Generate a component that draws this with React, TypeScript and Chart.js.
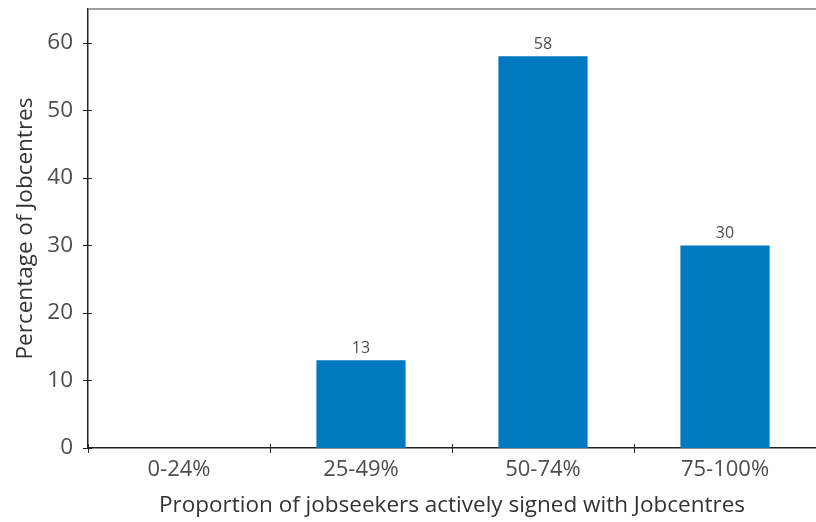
import React, { useEffect, useRef } from "react";
import { Chart, registerables } from "chart.js";

Chart.register(...registerables);

const categories = ["0-24%", "25-49%", "50-74%", "75-100%"];
const values = [0, 13, 58, 30];
const yTitle = "Percentage of Jobcentres";
const xTitle = "Proportion of jobseekers actively signed with Jobcentres";

const FONT = "'Open Sans', sans-serif";

const extrasPlugin = {
  id: "extras",
  afterDraw(chart: any) {
    const ctx = chart.ctx;
    const area = chart.chartArea;
    ctx.save();
    // top border
    ctx.strokeStyle = "#7f7f7f";
    ctx.lineWidth = 1.5;
    ctx.beginPath();
    ctx.moveTo(area.left, area.top);
    ctx.lineTo(chart.width, area.top);
    ctx.stroke();
    // crossing tick marks on y axis
    const ys = chart.scales.y;
    ctx.strokeStyle = "#222";
    ctx.lineWidth = 1;
    ys.ticks.forEach((t: any) => {
      const py = Math.round(ys.getPixelForValue(t.value)) + 0.5;
      ctx.beginPath();
      ctx.moveTo(area.left - 5, py);
      ctx.lineTo(area.left + 4, py);
      ctx.stroke();
    });
    // crossing tick marks on x axis at category boundaries
    for (let i = 0; i <= categories.length; i++) {
      const px = Math.round(area.left + (i * (area.right - area.left)) / categories.length) + 0.5;
      ctx.beginPath();
      ctx.moveTo(px, area.bottom - 4);
      ctx.lineTo(px, area.bottom + 5);
      ctx.stroke();
    }
    // value labels
    const meta = chart.getDatasetMeta(0);
    ctx.fillStyle = "#4d4d4d";
    ctx.font = `16px ${FONT}`;
    ctx.textAlign = "center";
    ctx.textBaseline = "bottom";
    meta.data.forEach((bar: any, i: number) => {
      const v = values[i];
      if (!v) return;
      ctx.fillText(String(v), bar.x, bar.y - 4);
    });
    ctx.restore();
  },
};

export default function App() {
  const ref = useRef<HTMLCanvasElement | null>(null);
  useEffect(() => {
    document.body.style.margin = "0";
    document.body.style.overflow = "hidden";
    if (!ref.current) return;
    const chart = new Chart(ref.current, {
      type: "bar",
      data: {
        labels: categories,
        datasets: [
          {
            data: values,
            backgroundColor: "#0079c1",
            borderWidth: 0,
            barPercentage: 0.49,
            categoryPercentage: 1,
          },
        ],
      },
      options: {
        responsive: false,
        animation: false,
        layout: { padding: { top: 9, right: 0, left: 0, bottom: 0 } },
        plugins: { legend: { display: false }, tooltip: { enabled: false } },
        scales: {
          x: {
            grid: { display: false, drawOnChartArea: false },
            border: { display: true, color: "#222", width: 1.5 },
            ticks: { color: "#4d4d4d", font: { family: FONT, size: 22 }, padding: 1 },
            title: {
              display: true,
              text: xTitle,
              color: "#333",
              font: { family: FONT, size: 22.5 },
              padding: { top: 2, bottom: 3 },
            },
            afterFit(scale: any) {
              scale.height = 74;
              scale.paddingLeft = 0;
              scale.paddingRight = 0;
            },
          },
          y: {
            min: 0,
            max: 65,
            grid: { display: false, drawOnChartArea: false },
            border: { display: true, color: "#222", width: 1.5 },
            ticks: {
              stepSize: 10,
              includeBounds: false,
              color: "#4d4d4d",
              font: { family: FONT, size: 22.5 },
              padding: 7,
            },
            title: {
              display: true,
              text: yTitle,
              color: "#333",
              font: { family: FONT, size: 22.5 },
              padding: { top: 12, bottom: 4 },
            },
            afterFit(scale: any) {
              scale.width = 88;
              scale.paddingTop = 0;
              scale.paddingBottom = 0;
            },
          },
        },
      },
      plugins: [extrasPlugin],
    });
    return () => chart.destroy();
  }, []);
  return <canvas ref={ref} width={816} height={522} style={{ display: "block" }} />;
}
